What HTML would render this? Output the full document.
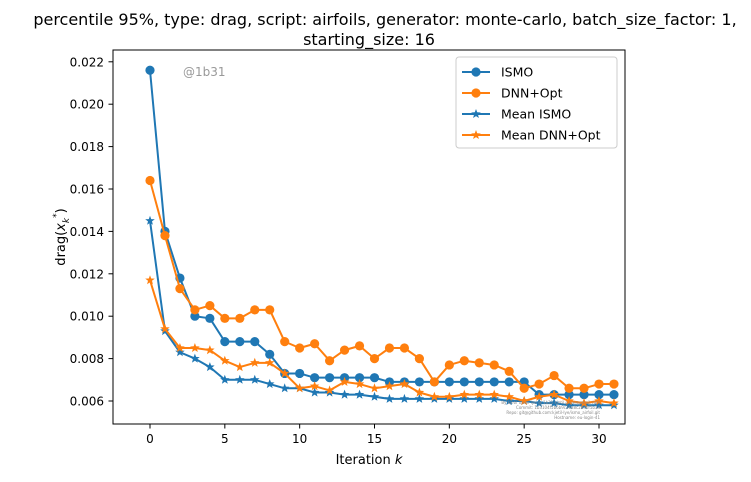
<!DOCTYPE html>
<html><head><meta charset="utf-8"><style>
body{margin:0;background:#fff;font-family:"Liberation Sans","DejaVu Sans",sans-serif;}
svg text{font-family:"DejaVu Sans","Liberation Sans",sans-serif;}
</style></head><body>
<svg id="chart" width="751" height="477" xmlns="http://www.w3.org/2000/svg">
<text x="385" y="25" text-anchor="middle" font-size="16">percentile 95%, type: drag, script: airfoils, generator: monte-carlo, batch_size_factor: 1,</text>
<text x="369" y="45" text-anchor="middle" font-size="16">starting_size: 16</text>
<text x="183" y="76" font-size="12" fill="#999">@1b31</text>
<g id="axes"></g>
<g font-size="4" fill="#888" text-anchor="end" font-family="Liberation Mono, monospace">
<text x="600" y="404">By kjetil olsen lye @ 1b31 kjetil.o.lye@gmail.com</text>
<text x="600" y="409">Commit: 1b3104f5b6b9c36a8c28d6f5b3d</text>
<text x="600" y="414">Repo: git@github.com:kjetil-lye/ismo_airfoil.git</text>
<text x="600" y="419">Hostname: eu-login-41</text>
</g>
<rect x="113" y="50" width="512" height="374" fill="none" stroke="#000" stroke-width="1"/>
<text x="369" y="464" text-anchor="middle" font-size="13">Iteration <tspan font-style="italic">k</tspan></text>
<text transform="translate(65,237) rotate(-90)" text-anchor="middle" font-size="13">drag(<tspan font-style="italic">x</tspan><tspan font-size="9" dy="4" font-style="italic">k</tspan><tspan font-size="9" dy="-10">*</tspan><tspan dy="6">)</tspan></text>
<g>
<rect x="456" y="57" width="161" height="91" fill="#fff" stroke="#ccc" rx="3"/>
</g>
</svg>
<script>
const iterations=[0,1,2,3,4,5,6,7,8,9,10,11,12,13,14,15,16,17,18,19,20,21,22,23,24,25,26,27,28,29,30,31];
const ismo=[0.0216,0.0140,0.0118,0.0100,0.0099,0.0088,0.0088,0.0088,0.0082,0.0073,0.0073,0.0071,0.0071,0.0071,0.0071,0.0071,0.0069,0.0069,0.0069,0.0069,0.0069,0.0069,0.0069,0.0069,0.0069,0.0069,0.0063,0.0063,0.0063,0.0063,0.0063,0.0063];
const dnnOpt=[0.0164,0.0138,0.0113,0.0103,0.0105,0.0099,0.0099,0.0103,0.0103,0.0088,0.0085,0.0087,0.0079,0.0084,0.0086,0.0080,0.0085,0.0085,0.0080,0.0069,0.0077,0.0079,0.0078,0.0077,0.0074,0.0066,0.0068,0.0072,0.0066,0.0066,0.0068,0.0068];
const meanIsmo=[0.0145,0.0093,0.0083,0.0080,0.0076,0.0070,0.0070,0.0070,0.0068,0.0066,0.0066,0.0064,0.0064,0.0063,0.0063,0.0062,0.0061,0.0061,0.0061,0.0061,0.0061,0.0061,0.0061,0.0061,0.0060,0.0060,0.0059,0.0059,0.0058,0.0058,0.0058,0.0058];
const meanDnnOpt=[0.0117,0.0094,0.0085,0.0085,0.0084,0.0079,0.0076,0.0078,0.0078,0.0073,0.0066,0.0067,0.0065,0.0069,0.0068,0.0066,0.0067,0.0068,0.0064,0.0062,0.0062,0.0063,0.0063,0.0063,0.0062,0.0060,0.0062,0.0063,0.0060,0.0059,0.0060,0.0059];
const xTicks=[0,5,10,15,20,25,30];
const yTicks=[0.006,0.008,0.010,0.012,0.014,0.016,0.018,0.020,0.022];
const seriesNames=["ISMO","DNN+Opt","Mean ISMO","Mean DNN+Opt"];
const NS="http://www.w3.org/2000/svg";
const svg=document.getElementById('chart');const g=document.getElementById('axes');
function xs(v){return 150+v*(599-150)/30;}
function ys(v){return 401-(v-0.006)*(42.4/0.002);}
function mk(t,a){const e=document.createElementNS(NS,t);for(const k in a)e.setAttribute(k,a[k]);return e;}
xTicks.forEach(t=>{const l=mk('line',{x1:xs(t),x2:xs(t),y1:424,y2:428.5,stroke:'#000'});

g.appendChild(l);
const tx=mk('text',{x:xs(t),y:443,'text-anchor':'middle','font-size':12});tx.textContent=t;

g.appendChild(tx);});
yTicks.forEach(t=>{const l=mk('line',{x1:108.5,x2:113,y1:ys(t),y2:ys(t),stroke:'#000'});

g.appendChild(l);
const tx=mk('text',{x:104,y:ys(t)+4.5,'text-anchor':'end','font-size':12});tx.textContent=t.toFixed(3);

g.appendChild(tx);});
function star(cx,cy,r){let p=[];for(let i=0;i<10;i++){const a=-Math.PI/2+i*Math.PI/5;const rr=i%2?r*0.42:r;p.push((cx+rr*Math.cos(a)).toFixed(1)+','+(cy+rr*Math.sin(a)).toFixed(1));}return p.join(' ');}
const data=[ismo,dnnOpt,meanIsmo,meanDnnOpt];const cols=['#1f77b4','#ff7f0e','#1f77b4','#ff7f0e'];
data.forEach((d,si)=>{const grp=mk('g',{});


const pts=d.map((v,i)=>xs(iterations[i])+','+ys(v)).join(' ');
grp.appendChild(mk('polyline',{points:pts,fill:'none',stroke:cols[si],'stroke-width':2,'stroke-linejoin':'round'}));
d.forEach((v,i)=>{let m;if(si<2)m=mk('circle',{cx:xs(iterations[i]),cy:ys(v),r:4.6,fill:cols[si]});else m=mk('polygon',{points:star(xs(iterations[i]),ys(v),5),fill:cols[si]});

grp.appendChild(m);});
g.appendChild(grp);
const ly=72+si*21;const lg=mk('g',{});


lg.appendChild(mk('line',{x1:462,x2:490,y1:ly,y2:ly,stroke:cols[si],'stroke-width':2}));
lg.appendChild(si<2?mk('circle',{cx:476,cy:ly,r:4.6,fill:cols[si]}):mk('polygon',{points:star(476,ly,5),fill:cols[si]}));
const lt=mk('text',{x:501,y:ly+4.5,'font-size':12.5});lt.textContent=seriesNames[si];lg.appendChild(lt);
svg.appendChild(lg);});
</script>
</body></html>
